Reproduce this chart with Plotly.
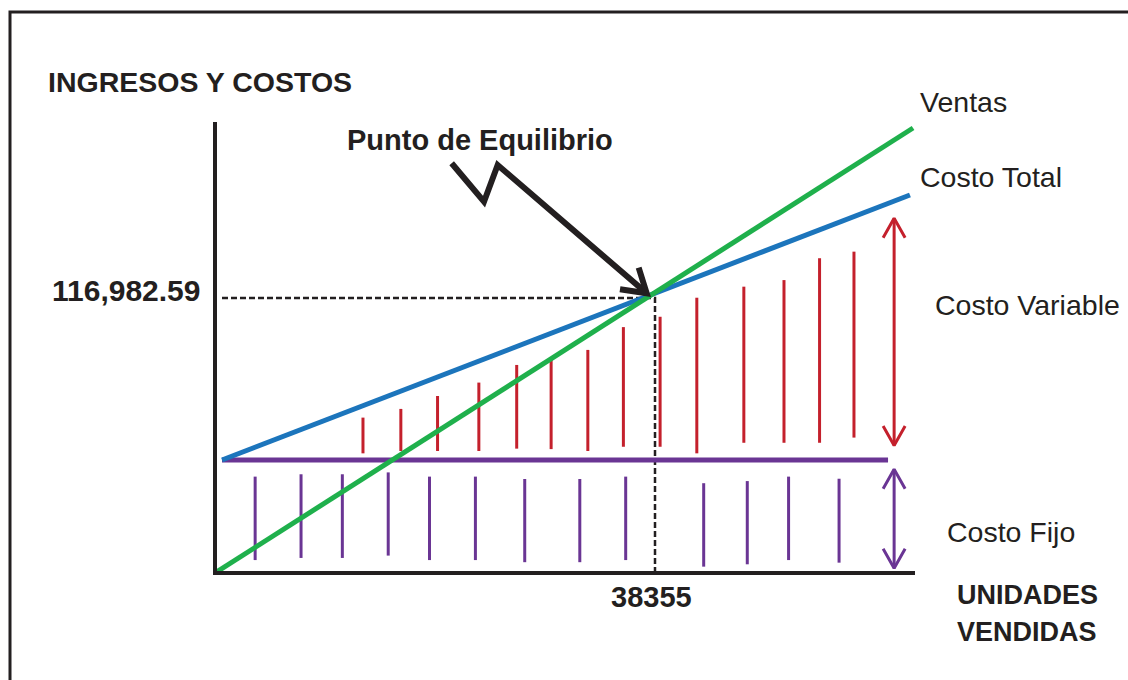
import math
import plotly.graph_objects as go

# ---------------- data ----------------
break_even_units = 38355
break_even_value = 116982.59

ventas_x = [0, 60850]
ventas_y = [0, 189300]

costo_total_x = [610, 60580]
costo_total_y = [48070, 160800]

costo_fijo_x = [610, 58670]
costo_fijo_y = [48070, 48070]

# variable-cost hatch bars (red)
cv_x = [12900, 16200, 19400, 23000, 26300, 29300, 32500, 35600, 38800, 42000, 46100, 49600, 52700, 55700]
cv_bottom = [50900, 51900, 51900, 51900, 52900, 52700, 51900, 53700, 53700, 50900, 55400, 55400, 55400, 57600]
cv_top = [66100, 69800, 75300, 81000, 88500, 91000, 94900, 104600, 109000, 117100, 121800, 124600, 133900, 136700]

# fixed-cost hatch bars (purple)
cf_x = [3500, 7500, 11100, 15100, 18700, 22700, 27000, 31800, 35800, 42600, 46400, 50000, 54400]
cf_bottom = [5500, 6400, 6400, 7400, 5500, 5500, 4600, 4600, 5500, 2700, 3700, 5500, 4400]
cf_top = [41000, 42000, 42000, 42800, 41000, 41000, 40000, 40000, 41000, 38200, 39100, 41000, 40100]

# double arrows at the right
brace_x = 59200
cv_arrow_y = [54200, 150900]
cf_arrow_y = [2000, 44100]

# zig-zag pointer to the break-even point
pointer_x = [20630, 23450, 24640, 37630]
pointer_y = [174280, 157950, 173560, 118980]

# labels
y_title = "INGRESOS Y COSTOS"
x_title = ["UNIDADES", "VENDIDAS"]
pointer_label = "Punto de Equilibrio"
y_tick_label = "116,982.59"
x_tick_label = "38355"

# ---------------- layout geometry (pixels) ----------------
W, H = 1128, 680
PL, PR, PT, PB = 215, 915, 122, 573
X_MAX = 61020
Y_MAX = 191850

GREEN = "#1fb04c"
BLUE = "#1c75bc"
PURPLE = "#6a3594"
RED = "#c4202c"
INK = "#231f20"
FONT = "Liberation Sans, Arial, sans-serif"


def dx_px(d):
    return d * (PR - PL) / X_MAX


def dy_px(d):
    return d * (PB - PT) / Y_MAX


def fx(px):  # pixel -> paper (x)
    return (px - PL) / (PR - PL)


def fy(py):  # pixel -> paper (y)
    return (PB - py) / (PB - PT)


fig = go.Figure()

# dashed guides to the break-even point
fig.add_trace(go.Scatter(
    x=[costo_fijo_x[0], break_even_units, break_even_units],
    y=[break_even_value, break_even_value, 0],
    mode="lines", line=dict(color=INK, width=2.5, dash="6px,3px"),
    hoverinfo="skip", showlegend=False))


def bars(xs, y0s, y1s):
    X, Y = [], []
    for x, a, b in zip(xs, y0s, y1s):
        X += [x, x, None]
        Y += [a, b, None]
    return X, Y


X, Y = bars(cf_x, cf_bottom, cf_top)
fig.add_trace(go.Scatter(x=X, y=Y, mode="lines", line=dict(color=PURPLE, width=3),
                         hoverinfo="skip", showlegend=False))
X, Y = bars(cv_x, cv_bottom, cv_top)
fig.add_trace(go.Scatter(x=X, y=Y, mode="lines", line=dict(color=RED, width=3),
                         hoverinfo="skip", showlegend=False))


def double_arrow(x, y0, y1, half_w=11, head_h=19.5):
    hw = half_w * X_MAX / (PR - PL)
    hh = head_h * Y_MAX / (PB - PT)
    X = [x, x, None, x - hw, x, x + hw, None, x - hw, x, x + hw]
    Y = [y0, y1, None, y1 - hh, y1, y1 - hh, None, y0 + hh, y0, y0 + hh]
    return X, Y


X, Y = double_arrow(brace_x, *cv_arrow_y)
fig.add_trace(go.Scatter(x=X, y=Y, mode="lines", line=dict(color=RED, width=3),
                         hoverinfo="skip", showlegend=False))
X, Y = double_arrow(brace_x, *cf_arrow_y)
fig.add_trace(go.Scatter(x=X, y=Y, mode="lines", line=dict(color=PURPLE, width=3),
                         hoverinfo="skip", showlegend=False))

# main lines
fig.add_trace(go.Scatter(x=costo_fijo_x, y=costo_fijo_y, mode="lines",
                         line=dict(color=PURPLE, width=5), name="Costo Fijo",
                         hoverinfo="skip", showlegend=False))
fig.add_trace(go.Scatter(x=costo_total_x, y=costo_total_y, mode="lines",
                         line=dict(color=BLUE, width=5), name="Costo Total",
                         hoverinfo="skip", showlegend=False))
fig.add_trace(go.Scatter(x=ventas_x, y=ventas_y, mode="lines",
                         line=dict(color=GREEN, width=5), name="Ventas",
                         hoverinfo="skip", showlegend=False))

# zig-zag pointer with open arrowhead
tipx, tipy = dx_px(pointer_x[-1]), dy_px(pointer_y[-1])
prvx, prvy = dx_px(pointer_x[-2]), dy_px(pointer_y[-2])
ang = math.atan2(prvy - tipy, prvx - tipx)
head_len, head_ang = 27, math.radians(32)
hx, hy = [], []
for s in (-1, 1):
    a = ang + s * head_ang
    hx.append((tipx + head_len * math.cos(a)) * X_MAX / (PR - PL))
    hy.append((tipy + head_len * math.sin(a)) * Y_MAX / (PB - PT))
PX = list(pointer_x) + [None, hx[0], pointer_x[-1], hx[1]]
PY = list(pointer_y) + [None, hy[0], pointer_y[-1], hy[1]]
fig.add_trace(go.Scatter(x=PX, y=PY, mode="lines", line=dict(color=INK, width=6),
                         hoverinfo="skip", showlegend=False))

shapes = [
    # outer frame
    dict(type="rect", xref="paper", yref="paper", x0=fx(10), x1=fx(1150), y0=fy(12), y1=fy(700),
         line=dict(color=INK, width=3), fillcolor="rgba(0,0,0,0)", layer="below"),
    # axes
    dict(type="line", xref="paper", yref="paper", x0=fx(215), x1=fx(215), y0=fy(122), y1=fy(575),
         line=dict(color=INK, width=4)),
    dict(type="line", xref="paper", yref="paper", x0=fx(213), x1=fx(915), y0=fy(573), y1=fy(573),
         line=dict(color=INK, width=4)),
]


def label(text, px, py, size=27, bold=False, anchor="left"):
    return dict(text=f"<b>{text}</b>" if bold else text, xref="paper", yref="paper",
                x=fx(px), y=fy(py), xanchor=anchor, yanchor="middle", showarrow=False,
                font=dict(family=FONT, size=size, color=INK))


annotations = [
    label(y_title, 46, 82, 28.5, True),
    label(pointer_label, 345, 140, 29, True),
    label(y_tick_label, 203, 290, 30, True, "right"),
    label(x_title[0], 1027, 595, 27, True, "center"),
    label(x_title[1], 1027, 632, 27, True, "center"),
    label("Ventas", 918, 102, 28.5),
    label("Costo Total", 918, 177, 28.5),
    label("Costo Variable", 933, 305, 28.5),
    label("Costo Fijo", 945, 532, 28.5),
    dict(text=f"<b>{x_tick_label}</b>", xref="x", yref="paper", x=break_even_units, xshift=-4,
         y=fy(597), xanchor="center", yanchor="middle", showarrow=False,
         font=dict(family=FONT, size=29, color=INK)),
]

fig.update_layout(
    width=W, height=H,
    margin=dict(l=PL, r=W - PR, t=PT, b=H - PB, pad=0),
    paper_bgcolor="white", plot_bgcolor="white",
    xaxis=dict(range=[0, X_MAX], visible=False, fixedrange=True),
    yaxis=dict(range=[0, Y_MAX], visible=False, fixedrange=True),
    shapes=shapes, annotations=annotations, showlegend=False,
)

fig.write_html("out.html", config={"displayModeBar": False})
